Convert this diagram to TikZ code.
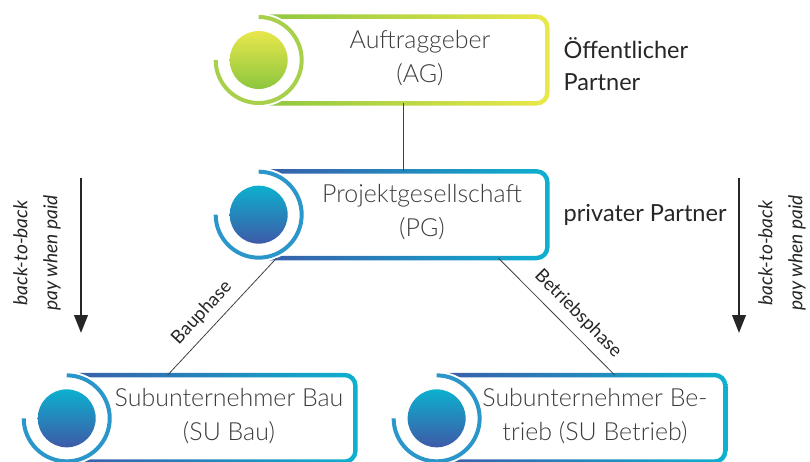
\documentclass[tikz,border=0pt]{standalone}
\usepackage{fontspec}
\setmainfont{Lato}
\newfontfamily\thinfont{Lato Light}
\usetikzlibrary{positioning,arrows.meta}

\definecolor{agL}{HTML}{8CC63F}
\definecolor{agR}{HTML}{EAE84A}
\definecolor{agA}{HTML}{A8D04B}
\definecolor{agT}{HTML}{E8E74B}
\definecolor{agB}{HTML}{8CC63F}
\definecolor{blL}{HTML}{3B5CA9}
\definecolor{blR}{HTML}{0DB1CF}
\definecolor{blA}{HTML}{2B96C9}
\definecolor{blT}{HTML}{0DB0CE}
\definecolor{blB}{HTML}{3E5AA8}
\definecolor{textgray}{HTML}{3C3C3C}

\begin{document}
\begin{tikzpicture}[
  x=0.02cm, y=0.02cm,
  box/.style={minimum width=5.76cm, minimum height=1.72cm, inner sep=0pt},
  ring/.style={even odd rule},
  arcline/.style={line width=0.08cm},
  boxtext/.style={font=\thinfont\fontsize{14.2}{19.3}\selectfont, text=textgray, align=center},
  sidetext/.style={font=\fontsize{13.4}{18.2}\selectfont, text=black!85, align=left, inner sep=0pt},
  phasetext/.style={font=\fontsize{10.5}{12}\selectfont, text=black!85},
  paytext/.style={font=\itshape\fontsize{10.9}{17}\selectfont, text=black!85, rotate=90, align=center},
  link/.style={draw=black!75, line width=0.45pt},
  flow/.style={draw=black!85, line width=1.4pt, -{Triangle[length=0.36cm, width=0.27cm]}}
]
\useasboundingbox (0,0) rectangle (810,461);

% the four parties
\node[box] (ag) at (403,401) {};
\node[box, below=1.36cm of ag] (pg) {};
\node[box, below=2.34cm of pg, xshift=-3.84cm] (bau) {};
\node[box, below=2.34cm of pg, xshift=3.56cm] (betrieb) {};

\foreach \n/\col in {ag/ag, pg/bl, bau/bl, betrieb/bl} {
  \shade[ring, left color=\col L, right color=\col R]
    ([shift={(-2.25,2.25)}]\n.north west) [rounded corners=0.26cm] rectangle ([shift={(2.25,-2.25)}]\n.south east)
    ([shift={(2.25,-2.25)}]\n.north west) [rounded corners=0.17cm] rectangle ([shift={(-2.25,2.25)}]\n.south east);
  \fill[white] (\n.west) circle (47);
  \draw[arcline, draw=\col A] ([shift={(90:43)}]\n.west) arc[start angle=90, end angle=-180, radius=43];
  \shade[top color=\col T, bottom color=\col B] (\n.west) circle (29);
}

\node[boxtext] (agtext) at ([shift={(17,2)}]ag.center) {Auftraggeber\\(AG)};
\node[boxtext] (pgtext) at ([shift={(19,3)}]pg.center) {Projektgesellschaft\\(PG)};
\node[boxtext] (bautext) at ([shift={(18,2)}]bau.center) {Subunternehmer Bau\\(SU Bau)};
\node[boxtext] (betriebtext) at ([shift={(14,2)}]betrieb.center) {Subunternehmer Be-\\trieb (SU Betrieb)};

\node[sidetext, right=0.32cm of ag, yshift=-0.08cm] (agrole) {Öffentlicher\\Partner};
\node[sidetext, right=0.32cm of pg] (pgrole) {privater Partner};

% contracts
\draw[link] (ag) -- (pg);
\draw[link] ([shift={(101,0)}]bau.north west) -- node[phasetext, pos=0.43, above=1.5pt, sloped] (bauphase) {Bauphase} ([shift={(18,0)}]pg.south west);
\draw[link] ([shift={(-49,0)}]pg.south east) -- node[phasetext, pos=0.58, above=1.5pt, sloped] (betriebsphase) {Betriebsphase} ([shift={(178,0)}]betrieb.north west);

% payment flow
\coordinate (ltop) at (81,283);
\coordinate (lend) at (81,128);
\coordinate (rtop) at (739,283);
\coordinate (rend) at (739,128);
\draw[flow] (ltop) -- (lend);
\draw[flow] (rtop) -- (rend);
\node[paytext] (lpay) at (37,208) {back-to-back\\pay when paid};
\node[paytext] (rpay) at (782,208) {back-to-back\\pay when paid};
\end{tikzpicture}
\end{document}
